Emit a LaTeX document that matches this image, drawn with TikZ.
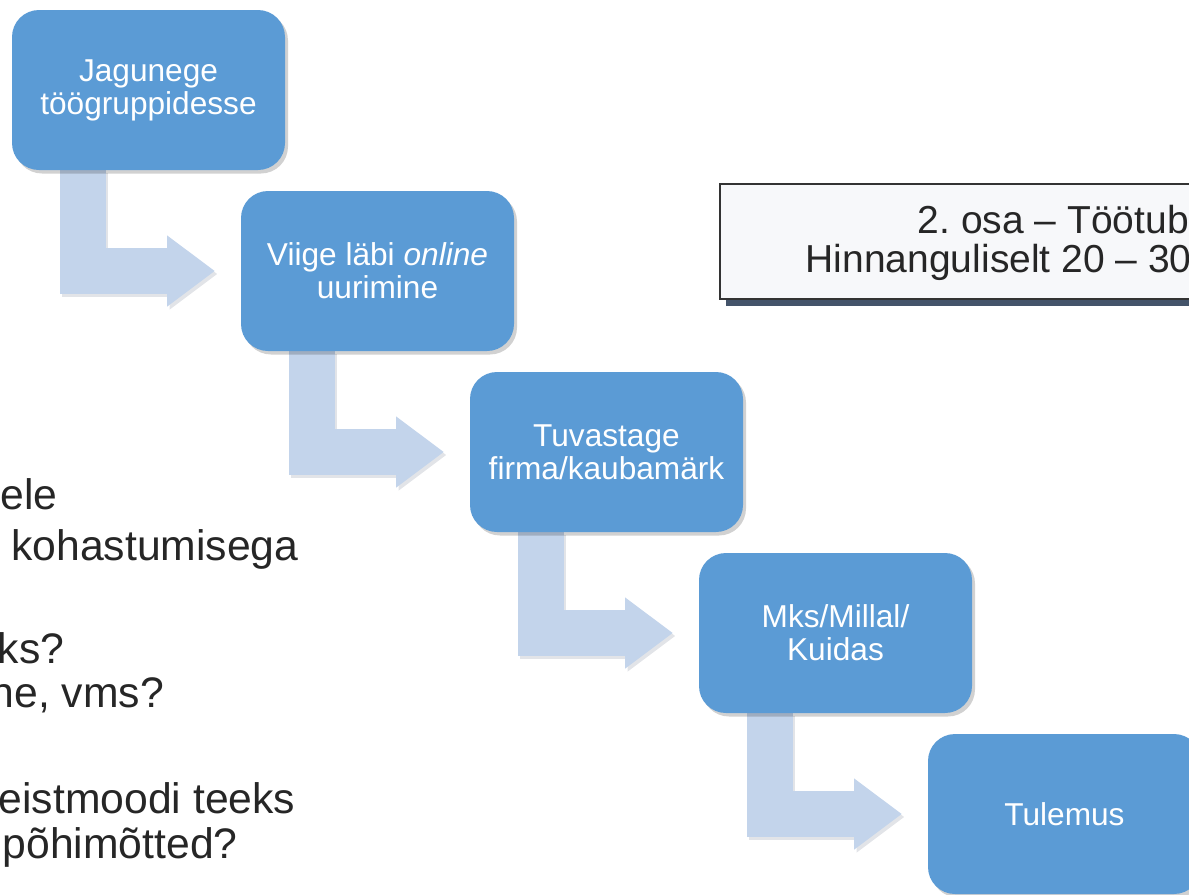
\documentclass[tikz,border=0pt]{standalone}
\usepackage{fontspec}
\setmainfont{Liberation Sans}
\usetikzlibrary{arrows.meta,positioning,shadows,backgrounds}
\definecolor{StepBlue}{HTML}{5B9BD5}
\definecolor{ArrowBlue}{HTML}{C3D4EB}
\definecolor{ArrowShade}{HTML}{E2E4E8}
\definecolor{TitleFill}{HTML}{F7F8FA}
\definecolor{TitleShadow}{HTML}{44546A}
\definecolor{BodyText}{HTML}{262626}
\frenchspacing

\begin{document}
\begin{tikzpicture}[
  % ── process step (rounded blue box) ─────────────────────────────────────
  stepbox/.style={
    fill=StepBlue, text=white,
    minimum width=2.73cm, minimum height=1.6cm,
    inner sep=0pt, outer sep=0pt, align=center, rounded corners=0.27cm,
    font=\fontsize{9}{9.4}\selectfont,
    drop shadow={shadow xshift=0.03cm, shadow yshift=-0.035cm,
                 fill=black, opacity=0.18}
  },
  % ── bent block arrow between steps ──────────────────────────────────────
  flow/.style={draw=ArrowBlue, line width=0.46cm, line join=miter,
    -{Triangle[width=0.68cm,length=0.48cm]}},
  flowshade/.style={flow, draw=ArrowShade},
  % ── heading frame ───────────────────────────────────────────────────────
  titlebox/.style={draw=black!80, line width=0.5pt, fill=TitleFill,
    anchor=north west, minimum width=5.5cm, minimum height=1.15cm,
    drop shadow={shadow xshift=0.06cm, shadow yshift=-0.07cm,
                 fill=TitleShadow, opacity=1}},
  titletext/.style={anchor=base west, inner sep=0pt, text=BodyText,
    font=\fontsize{11.1}{11.5}\selectfont},
  % ── slide body text (cut at the left edge) ──────────────────────────────
  bodytext/.style={anchor=base west, inner sep=0pt, text=BodyText,
    font=\fontsize{12.15}{14}\selectfont},
]
\useasboundingbox (0,0) rectangle (11.89,-8.94);
\clip (0,0) rectangle (11.89,-8.94);

%% ── Staircase of steps ──
\node[stepbox] (b1) at (1.485,-0.90) {Jagunege\\töögruppidesse};
\node[stepbox] (b2) [below right=0.21cm and -0.44cm of b1]
      {Viige läbi \textit{online}\\uurimine};
\node[stepbox] (b3) [below right=0.21cm and -0.44cm of b2]
      {Tuvastage\\firma/kaubamärk};
\node[stepbox] (b4) [below right=0.21cm and -0.44cm of b3]
      {Mks/Millal/\\Kuidas};
\node[stepbox] (b5) [below right=0.21cm and -0.44cm of b4] {Tulemus};

%% ── Bent arrows (behind the boxes) ──
\begin{scope}[on background layer]
\foreach \a/\b in {b1/b2, b2/b3, b3/b4, b4/b5}{
  \draw[flowshade] ([xshift=0.73cm,yshift=-0.03cm]\a.south west)
    |- ([xshift=-0.235cm,yshift=-0.03cm]\b.west);
  \draw[flow] ([xshift=0.705cm]\a.south west) |- ([xshift=-0.26cm]\b.west);
}
\end{scope}

%% ── Heading ──
\node[titlebox] (title) at (7.19,-1.83) {};
\node[titletext] (t1) at (9.17,-2.33) {2. osa – Töötub};
\node[titletext] (t2) at (8.05,-2.72) {Hinnanguliselt 20 – 30};

%% ── Body text ──
\node[bodytext] (l1) at (0.00,-5.09) {ele};
\node[bodytext] (l2) at (0.106,-5.60) {kohastumisega};
\node[bodytext] (l3) at (-0.03,-6.63) {ks?};
\node[bodytext] (l4) at (-0.10,-7.07) {ne, vms?};
\node[bodytext] (l5) at (-0.02,-8.13) {eistmoodi teeks};
\node[bodytext] (l6) at (0.02,-8.58) {põhimõtted?};

\end{tikzpicture}
\end{document}
